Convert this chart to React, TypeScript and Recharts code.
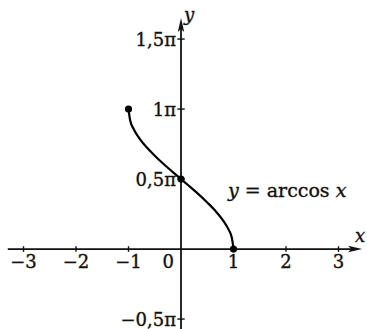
import React from "react";
import {
  ComposedChart, Line, Scatter, XAxis, YAxis, ReferenceLine, ReferenceDot,
} from "recharts";

// y = arccos x, y values in units of π
const curveX = [-1, -0.97, -0.9, -0.8, -0.65, -0.5, -0.3, -0.15, 0, 0.15, 0.3, 0.5, 0.65, 0.8, 0.9, 0.97, 1];
const curveY = [1, 0.922, 0.856, 0.795, 0.725, 0.667, 0.597, 0.548, 0.5, 0.452, 0.403, 0.333, 0.275, 0.205, 0.144, 0.078, 0];

// dots at the ends and at the y-axis crossing
const markX = [-1, 0, 1];
const markY = [1, 0.5, 0];

const xTicks = [-3, -2, -1, 1, 2, 3];
const xTickLabels = ["−3", "−2", "−1", "1", "2", "3"];
const yTicks = [-0.5, 0.5, 1, 1.5];
const yTickLabels = ["−0,5π", "0,5π", "1π", "1,5π"];

const X_DOMAIN: [number, number] = [-3.448, 3.543];
const Y_DOMAIN: [number, number] = [-0.571, 1.779];
const X_AXIS_FROM = -3.3;
const X_AXIS_TO = 3.45;
const Y_AXIS_TO = 1.65;
const CURVE_LABEL_AT = { x: 0.895, y: 0.371 };

const curveData = curveX.map((x, i) => ({ x, y: curveY[i] }));
const markData = markX.map((x, i) => ({ x, y: markY[i] }));

const FONT = "'DejaVu Serif', serif";
const INK = "#111";
// scanned print looks a little heavier than the plain font
const textInk = { fill: INK, stroke: INK, strokeWidth: 0.35 };

const Arrow = (p: any) => {
  const { x1, y1, x2, y2 } = p;
  const len = Math.hypot(x2 - x1, y2 - y1) || 1;
  const ux = (x2 - x1) / len;
  const uy = (y2 - y1) / len;
  const nx = -uy;
  const ny = ux;
  const hl = 14;
  const hw = 3.2;
  const bx = x2 - ux * hl;
  const by = y2 - uy * hl;
  const mx = x2 - ux * (hl - 3);
  const my = y2 - uy * (hl - 3);
  return (
    <g>
      <line x1={x1} y1={y1} x2={mx} y2={my} stroke={INK} strokeWidth={1.8} />
      <path
        d={`M${x2},${y2} L${bx + nx * hw},${by + ny * hw} L${mx},${my} L${bx - nx * hw},${by - ny * hw} Z`}
        fill={INK}
      />
    </g>
  );
};

const TickMark = (p: any) => (
  <line x1={p.x1} y1={p.y1} x2={p.x2} y2={p.y2} stroke={INK} strokeWidth={1.4} />
);

export default function App() {
  return (
    <div style={{ position: "absolute", left: 0, top: 0, width: 367, height: 329, background: "#fff" }}>
      <ComposedChart
        width={367}
        height={329}
        data={curveData}
        margin={{ top: 0, right: 0, bottom: 0, left: 0 }}
      >
        <XAxis type="number" dataKey="x" domain={X_DOMAIN} allowDataOverflow hide />
        <YAxis type="number" dataKey="y" domain={Y_DOMAIN} allowDataOverflow hide />

        {/* axes */}
        <ReferenceLine
          segment={[{ x: X_AXIS_FROM, y: 0 }, { x: X_AXIS_TO, y: 0 }]}
          ifOverflow="visible"
          shape={Arrow}
        />
        <ReferenceLine
          segment={[{ x: 0, y: Y_DOMAIN[0] }, { x: 0, y: Y_AXIS_TO }]}
          ifOverflow="visible"
          shape={Arrow}
        />

        {xTicks.map((t) => (
          <ReferenceLine
            key={"xt" + t}
            segment={[{ x: t, y: -0.02 }, { x: t, y: 0.02 }]}
            ifOverflow="visible"
            shape={TickMark}
          />
        ))}
        {yTicks.map((t) => (
          <ReferenceLine
            key={"yt" + t}
            segment={[{ x: -0.07, y: t }, { x: 0.07, y: t }]}
            ifOverflow="visible"
            shape={TickMark}
          />
        ))}

        {xTicks.map((t, i) => (
          <ReferenceDot
            key={"xl" + t}
            x={t}
            y={0}
            r={0}
            ifOverflow="visible"
            shape={(p: any) => (
              <text x={p.cx} y={p.cy + 19} textAnchor="middle" fontFamily={FONT} fontSize={18} {...textInk}>
                {xTickLabels[i]}
              </text>
            )}
          />
        ))}
        <ReferenceDot
          x={0}
          y={0}
          r={0}
          ifOverflow="visible"
          shape={(p: any) => (
            <text x={p.cx - 7} y={p.cy + 19} textAnchor="end" fontFamily={FONT} fontSize={18} {...textInk}>
              0
            </text>
          )}
        />
        {yTicks.map((t, i) => (
          <ReferenceDot
            key={"yl" + t}
            x={0}
            y={t}
            r={0}
            ifOverflow="visible"
            shape={(p: any) => (
              <text x={p.cx - 5} y={p.cy + 6.5} textAnchor="end" fontFamily={FONT} fontSize={18} {...textInk}>
                {yTickLabels[i]}
              </text>
            )}
          />
        ))}

        {/* axis names */}
        <ReferenceDot
          x={0}
          y={Y_AXIS_TO}
          r={0}
          ifOverflow="visible"
          shape={(p: any) => (
            <text x={p.cx + 3} y={p.cy + 3} fontFamily={FONT} fontStyle="italic" fontSize={18} {...textInk}>
              y
            </text>
          )}
        />
        <ReferenceDot
          x={X_AXIS_TO}
          y={0}
          r={0}
          ifOverflow="visible"
          shape={(p: any) => (
            <text x={p.cx - 7} y={p.cy - 7} fontFamily={FONT} fontStyle="italic" fontSize={18} {...textInk}>
              x
            </text>
          )}
        />

        {/* curve name */}
        <ReferenceDot
          x={CURVE_LABEL_AT.x}
          y={CURVE_LABEL_AT.y}
          r={0}
          ifOverflow="visible"
          shape={(p: any) => (
            <text x={p.cx} y={p.cy} fontFamily={FONT} fontSize={19} {...textInk}>
              <tspan fontStyle="italic">y</tspan>
              <tspan> = arccos </tspan>
              <tspan fontStyle="italic">x</tspan>
            </text>
          )}
        />

        <Line
          type="monotone"
          dataKey="y"
          stroke="#000"
          strokeWidth={2.2}
          dot={false}
          activeDot={false}
          isAnimationActive={false}
        />
        <Scatter
          data={markData}
          isAnimationActive={false}
          shape={(p: any) => <circle cx={p.cx} cy={p.cy} r={3.6} fill="#000" />}
        />
      </ComposedChart>
    </div>
  );
}
